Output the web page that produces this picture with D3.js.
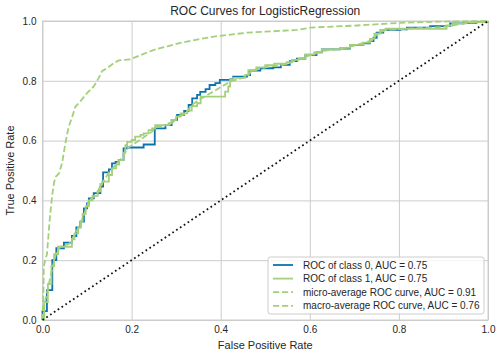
<!DOCTYPE html>
<html><head><meta charset="utf-8">
<script src="https://cdn.jsdelivr.net/npm/d3@7"></script>
<style>body{margin:0;background:#fff}svg{display:block;font-family:"Liberation Sans",Arial,sans-serif}</style>
</head><body><svg id="c" width="502" height="357"></svg>
<script>
// ---------- data ----------
const xTicks = [0.0, 0.2, 0.4, 0.6, 0.8, 1.0];
const yTicks = [0.0, 0.2, 0.4, 0.6, 0.8, 1.0];

const class0Fpr = [0,0,0.01,0.01,0.022,0.022,0.031,0.031,0.048,0.048,0.066,0.066,0.076,0.076,0.085,0.085,0.093,0.093,0.1,0.1,0.104,0.104,0.115,0.115,0.13,0.13,0.136,0.136,0.149,0.149,0.156,0.156,0.164,0.164,0.171,0.171,0.182,0.182,0.19,0.19,0.227,0.227,0.252,0.252,0.276,0.276,0.29,0.29,0.302,0.302,0.318,0.318,0.328,0.328,0.336,0.336,0.347,0.347,0.354,0.354,0.366,0.366,0.375,0.375,0.388,0.388,0.398,0.398,0.421,0.421,0.428,0.428,0.459,0.459,0.466,0.466,0.489,0.489,0.518,0.518,0.535,0.535,0.555,0.555,0.571,0.571,0.59,0.59,0.615,0.615,0.627,0.627,0.668,0.668,0.69,0.69,0.72,0.72,0.735,0.735,0.743,0.743,0.75,0.75,0.765,0.765,0.803,0.803,0.818,0.818,0.87,0.87,0.915,0.915,0.945,0.945,0.974,0.974,1,1];
const class0Tpr = [0,0.03,0.03,0.10,0.10,0.20,0.20,0.24,0.24,0.259,0.259,0.281,0.281,0.31,0.31,0.329,0.329,0.373,0.373,0.39,0.39,0.407,0.407,0.424,0.424,0.446,0.446,0.494,0.494,0.504,0.504,0.524,0.524,0.529,0.529,0.535,0.535,0.574,0.574,0.577,0.577,0.587,0.587,0.641,0.641,0.652,0.652,0.669,0.669,0.686,0.686,0.699,0.699,0.719,0.719,0.741,0.741,0.753,0.753,0.763,0.763,0.772,0.772,0.786,0.786,0.792,0.792,0.803,0.803,0.805,0.805,0.814,0.814,0.819,0.819,0.834,0.834,0.842,0.842,0.845,0.845,0.853,0.853,0.866,0.866,0.874,0.874,0.886,0.886,0.895,0.895,0.905,0.905,0.908,0.908,0.919,0.919,0.925,0.925,0.933,0.933,0.944,0.944,0.961,0.961,0.97,0.97,0.972,0.972,0.978,0.978,0.983,0.983,0.992,0.992,0.994,0.994,0.997,0.997,1];

const class1Fpr = [0,0.004,0.004,0.012,0.012,0.02,0.02,0.026,0.026,0.035,0.035,0.066,0.066,0.072,0.072,0.08,0.08,0.086,0.086,0.09,0.09,0.097,0.097,0.104,0.104,0.112,0.112,0.124,0.124,0.13,0.13,0.134,0.134,0.149,0.149,0.156,0.156,0.165,0.165,0.172,0.172,0.182,0.182,0.186,0.186,0.19,0.19,0.2,0.2,0.208,0.208,0.22,0.22,0.227,0.227,0.238,0.238,0.246,0.246,0.253,0.253,0.283,0.283,0.29,0.29,0.3,0.3,0.31,0.31,0.325,0.325,0.335,0.335,0.347,0.347,0.355,0.355,0.41,0.41,0.417,0.417,0.421,0.421,0.428,0.428,0.455,0.455,0.462,0.462,0.48,0.48,0.5,0.5,0.52,0.52,0.548,0.548,0.56,0.56,0.575,0.575,0.59,0.59,0.61,0.61,0.627,0.627,0.668,0.668,0.69,0.69,0.72,0.72,0.735,0.735,0.745,0.745,0.758,0.758,0.77,0.77,0.907,0.907,0.92,0.92,0.95,0.95,1,1];
const class1Tpr = [0,0,0.06,0.06,0.12,0.12,0.18,0.18,0.22,0.22,0.245,0.245,0.27,0.27,0.29,0.29,0.31,0.31,0.33,0.33,0.355,0.355,0.38,0.38,0.40,0.40,0.415,0.415,0.43,0.43,0.455,0.455,0.463,0.463,0.485,0.485,0.507,0.507,0.52,0.52,0.535,0.535,0.56,0.56,0.585,0.585,0.596,0.596,0.602,0.602,0.613,0.613,0.619,0.619,0.624,0.624,0.635,0.635,0.641,0.641,0.652,0.652,0.658,0.658,0.669,0.669,0.68,0.68,0.691,0.691,0.70,0.70,0.715,0.715,0.725,0.725,0.747,0.747,0.764,0.764,0.781,0.781,0.803,0.803,0.81,0.81,0.82,0.82,0.836,0.836,0.845,0.845,0.852,0.852,0.857,0.857,0.862,0.862,0.87,0.87,0.875,0.875,0.888,0.888,0.895,0.895,0.905,0.905,0.91,0.91,0.92,0.92,0.928,0.928,0.94,0.94,0.958,0.958,0.97,0.97,0.974,0.974,0.985,0.985,0.992,0.992,0.996,0.996,1];

const microFpr = [0,0.001,0.002,0.003,0.006,0.01,0.017,0.022,0.026,0.03,0.037,0.044,0.049,0.055,0.059,0.067,0.074,0.085,0.1,0.115,0.126,0.134,0.145,0.16,0.171,0.197,0.212,0.235,0.257,0.28,0.309,0.384,0.459,0.571,0.602,0.706,0.803,0.892,1];
const microTpr = [0,0.05,0.09,0.18,0.20,0.22,0.35,0.42,0.46,0.48,0.49,0.525,0.57,0.62,0.647,0.681,0.714,0.731,0.759,0.781,0.809,0.833,0.842,0.859,0.868,0.872,0.881,0.895,0.907,0.915,0.927,0.948,0.961,0.97,0.978,0.985,0.994,0.998,1];

const macroFpr = [0,0.004,0.01,0.02,0.03,0.04,0.06,0.07,0.085,0.095,0.105,0.12,0.135,0.15,0.165,0.182,0.19,0.246,0.255,0.29,0.3,0.32,0.335,0.35,0.421,0.46,0.47,0.5,0.55,0.57,0.6,0.63,0.67,0.7,0.74,0.75,0.77,0.8,0.9,0.95,1];
const macroTpr = [0,0.05,0.09,0.16,0.22,0.245,0.255,0.28,0.32,0.36,0.40,0.42,0.46,0.495,0.52,0.55,0.574,0.63,0.645,0.655,0.675,0.69,0.719,0.735,0.797,0.815,0.835,0.845,0.856,0.87,0.885,0.90,0.907,0.918,0.935,0.955,0.97,0.973,0.98,0.993,1];

const diagFpr = [0, 1];
const diagTpr = [0, 1];

const seriesLabels = ["ROC of class 0, AUC = 0.75","ROC of class 1, AUC = 0.75","micro-average ROC curve, AUC = 0.91","macro-average ROC curve, AUC = 0.76"];
const seriesColors = ["#0b72b0","#a4cf7b","#a4cf7b","#a4cf7b"];
const seriesDash = [null,null,"6.2,2.8","6.2,2.8"];

// ---------- chart ----------
const svg = d3.select("#c");
const L = 42.5, R = 488, T = 21, B = 320;
const x = d3.scaleLinear().domain([0,1]).range([L,R]);
const y = d3.scaleLinear().domain([0,1]).range([B,T]);
const txt = "#262626", grid = "#cccccc";

// grid
const gx = svg.append("g").attr("transform",`translate(0,${B})`)
  .call(d3.axisBottom(x).tickValues(xTicks).tickSize(-(B-T)).tickFormat(""));
const gy = svg.append("g").attr("transform",`translate(${L},0)`)
  .call(d3.axisLeft(y).tickValues(yTicks).tickSize(-(R-L)).tickFormat(""));
[gx,gy].forEach(g=>{g.select(".domain").remove(); g.selectAll("line").attr("stroke",grid).attr("stroke-width",1);});

// frame
svg.append("rect").attr("x",L).attr("y",T).attr("width",R-L).attr("height",B-T)
  .attr("fill","none").attr("stroke",grid).attr("stroke-width",1);

// tick labels
const ax = svg.append("g").attr("transform",`translate(0,${B})`)
  .call(d3.axisBottom(x).tickValues(xTicks).tickSize(0).tickPadding(6).tickFormat(d3.format(".1f")));
const ay = svg.append("g").attr("transform",`translate(${L},0)`)
  .call(d3.axisLeft(y).tickValues(yTicks).tickSize(0).tickPadding(6).tickFormat(d3.format(".1f")));
[ax,ay].forEach(g=>{g.select(".domain").remove(); g.selectAll("text").attr("fill",txt).style("font-size","10px").style("font-family",'"Liberation Sans",Arial,sans-serif');});

const clip = svg.append("clipPath").attr("id","pc").append("rect").attr("x",L-2).attr("y",T-2).attr("width",R-L+4).attr("height",B-T+4);

const line = d3.line().x(d=>x(d[0])).y(d=>y(d[1]));
const zipP = (a,b)=>a.map((v,i)=>[v,b[i]]);
const series = [zipP(class0Fpr,class0Tpr), zipP(class1Fpr,class1Tpr), zipP(microFpr,microTpr), zipP(macroFpr,macroTpr)];
const plot = svg.append("g").attr("clip-path","url(#pc)");
series.forEach((s,i)=>{
  plot.append("path").attr("d",line(s)).attr("fill","none").attr("stroke",seriesColors[i])
    .attr("stroke-width",1.8).attr("stroke-dasharray",seriesDash[i]).attr("stroke-linejoin","miter");
});
plot.append("path").attr("d",line(zipP(diagFpr,diagTpr))).attr("fill","none").attr("stroke","#111")
  .attr("stroke-width",1.8).attr("stroke-dasharray","1.7,2.9");

// title & labels
svg.append("text").attr("x",(L+R)/2).attr("y",15).attr("text-anchor","middle").attr("fill",txt)
  .style("font-size","12px").text("ROC Curves for LogisticRegression");
svg.append("text").attr("x",(L+R)/2).attr("y",349).attr("text-anchor","middle").attr("fill",txt)
  .style("font-size","11px").text("False Positive Rate");
svg.append("text").attr("transform",`translate(14,${(T+B)/2}) rotate(-90)`).attr("text-anchor","middle").attr("fill",txt)
  .style("font-size","11px").text("True Positive Rate");

// legend
const lg = svg.append("g");
lg.append("rect").attr("x",268).attr("y",257).attr("width",216).attr("height",57).attr("rx",2.5)
  .attr("fill","#fff").attr("fill-opacity",0.8).attr("stroke",grid).attr("stroke-width",1);
seriesLabels.forEach((lab,i)=>{
  const yy = 265 + i*13.6;
  lg.append("line").attr("x1",273).attr("x2",293).attr("y1",yy).attr("y2",yy)
    .attr("stroke",seriesColors[i]).attr("stroke-width",1.8).attr("stroke-dasharray",seriesDash[i]);
  lg.append("text").attr("x",303).attr("y",yy+3.5).attr("fill",txt).style("font-size","10px").text(lab);
});
</script></body></html>
